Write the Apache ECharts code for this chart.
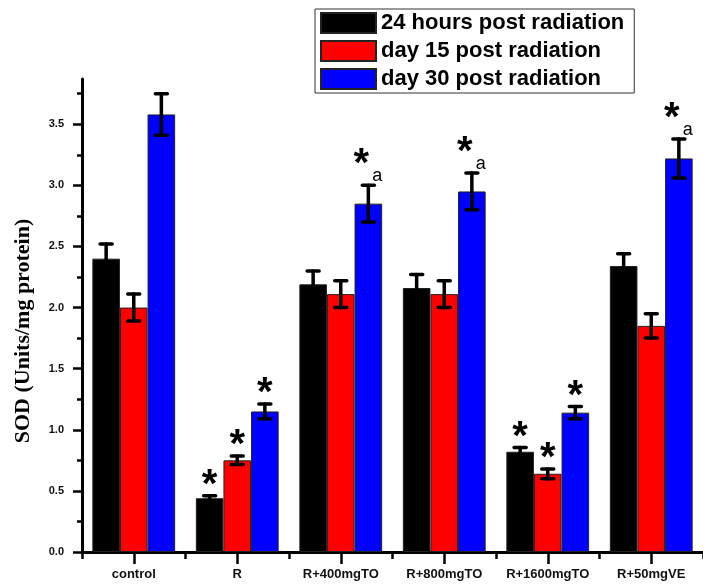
<!DOCTYPE html>
<html>
<head>
<meta charset="utf-8">
<script src="https://cdn.jsdelivr.net/npm/echarts@6/dist/echarts.min.js"></script>
<style>
  html, body { margin: 0; padding: 0; background: #fff; }
  #main { width: 703px; height: 588px; }
</style>
</head>
<body>
<div id="main"></div>
<script>
// groups on the x axis
var categories = ['control', 'R', 'R+400mgTO', 'R+800mgTO', 'R+1600mgTO', 'R+50mgVE'];
var seriesNames = ['24 hours post radiation', 'day 15 post radiation', 'day 30 post radiation'];

// SOD values (Units/mg protein)
var h24 = [2.40, 0.44, 2.19, 2.16, 0.82, 2.34];
var d15 = [2.00, 0.75, 2.11, 2.11, 0.64, 1.85];
var d30 = [3.58, 1.15, 2.85, 2.95, 1.14, 3.22];

// error bars (+/-)
var err24 = [0.12, 0.02, 0.11, 0.11, 0.035, 0.10];
var err15 = [0.11, 0.035, 0.11, 0.11, 0.04, 0.10];
var err30 = [0.17, 0.06, 0.15, 0.15, 0.05, 0.16];

// significance marks: * and a
var star24 = [0, 1, 0, 0, 1, 0];
var star15 = [0, 1, 0, 0, 1, 0];
var star30 = [0, 1, 1, 1, 1, 1];
var mark_a30 = [0, 0, 1, 1, 0, 1];

// y axis ticks
var yMajorTicks = [0, 0.5, 1.0, 1.5, 2.0, 2.5, 3.0, 3.5];
var yMinorTicks = [0.25, 0.75, 1.25, 1.75, 2.25, 2.75, 3.25, 3.75];
var yMax = 3.87;

var colors = ['#000000', '#ff0000', '#0000ff'];

var chart = echarts.init(document.getElementById('main'));

var buildErr = function (k, vals, errs, stars, marksA) {
    var data = [];
    for (var i = 0; i < vals.length; i++) {
        data.push([i, vals[i], errs[i], stars[i], marksA ? marksA[i] : 0]);
    }
    return {
        type: 'custom',
        xAxisIndex: 0,
        yAxisIndex: 0,
        z: 5,
        silent: true,
        data: data,
        renderItem: function (params, api) {
            var idx = api.value(0), v = api.value(1), e = api.value(2);
            var catW = api.size([1, 0])[0];
            var bw = catW * 0.8 / 3;
            var cx = api.coord([idx, 0])[0] + (k - 1) * bw;
            var top = api.coord([idx, v + e])[1];
            var bot = api.coord([idx, v - e])[1];
            var hw = 6;
            var lineStyle = { stroke: '#000', lineWidth: 3.5, lineCap: 'round' };
            var children = [
                { type: 'line', shape: { x1: cx, y1: top, x2: cx, y2: bot }, style: lineStyle },
                { type: 'line', shape: { x1: cx - hw, y1: top, x2: cx + hw, y2: top }, style: lineStyle },
                { type: 'line', shape: { x1: cx - hw, y1: bot, x2: cx + hw, y2: bot }, style: lineStyle }
            ];
            var hasA = api.value(4) === 1;
            // the asterisk glyph sits high in its box, so the anchor is lower than the glyph
            if (api.value(3) === 1) {
                children.push({
                    type: 'text',
                    x: cx + (hasA ? -7 : 0),
                    y: top - (hasA ? 20 : 10),
                    style: {
                        text: '*',
                        font: 'bold 40px "Liberation Sans", Arial, sans-serif',
                        fill: '#000',
                        align: 'center',
                        verticalAlign: 'middle'
                    }
                });
            }
            if (hasA) {
                children.push({
                    type: 'text',
                    x: cx + 9,
                    y: top - 9,
                    style: {
                        text: 'a',
                        font: '18px "Liberation Sans", Arial, sans-serif',
                        fill: '#000',
                        align: 'center',
                        verticalAlign: 'middle'
                    }
                });
            }
            return { type: 'group', children: children };
        }
    };
};

var barSeries = function (k, vals) {
    return {
        name: seriesNames[k],
        type: 'bar',
        xAxisIndex: 0,
        yAxisIndex: 0,
        data: vals,
        barGap: '0%',
        barCategoryGap: '20%',
        itemStyle: { color: colors[k], borderColor: '#222', borderWidth: 1 }
    };
};

var option = {
    animation: false,
    backgroundColor: '#fff',
    grid: { left: 82, top: 79, bottom: 36, width: 627, containLabel: false },
    legend: {
        data: seriesNames,
        orient: 'vertical',
        left: 315,
        top: 9,
        padding: [3, 10, 3, 5],
        itemWidth: 55,
        itemHeight: 20,
        itemGap: 6,
        icon: 'rect',
        borderColor: '#333',
        borderWidth: 1,
        textStyle: { fontFamily: '"Liberation Sans", Arial, sans-serif', fontWeight: 'bold', fontSize: 22, color: '#000' }
    },
    xAxis: [{
        type: 'category',
        position: 'bottom',
        data: categories,
        axisLine: { lineStyle: { color: '#000', width: 3 } },
        axisTick: { show: true, alignWithLabel: false, length: 7, lineStyle: { color: '#000', width: 2.5 } },
        axisLabel: {
            margin: 16,
            interval: 0,
            fontFamily: '"Liberation Sans", Arial, sans-serif',
            fontWeight: 'bold',
            fontSize: 13,
            color: '#111'
        },
        splitLine: { show: false }
    }, {
        type: 'category',
        position: 'bottom',
        data: categories,
        axisLine: { show: false },
        axisTick: { show: true, alignWithLabel: true, length: 12, lineStyle: { color: '#000', width: 2.5 } },
        axisLabel: { show: false },
        splitLine: { show: false }
    }],
    yAxis: [{
        type: 'value',
        position: 'left',
        min: 0,
        max: yMax,
        axisLine: { show: true, lineStyle: { color: '#000', width: 3 } },
        axisTick: { show: true, customValues: yMajorTicks, length: 9, lineStyle: { color: '#000', width: 2.5 } },
        axisLabel: {
            customValues: yMajorTicks,
            margin: 18,
            fontFamily: '"Liberation Sans", Arial, sans-serif',
            fontWeight: 'bold',
            fontSize: 11,
            color: '#111',
            formatter: function (v) { return v.toFixed(1); }
        },
        splitLine: { show: false }
    }, {
        type: 'value',
        position: 'left',
        min: 0,
        max: yMax,
        axisLine: { show: false },
        axisTick: { show: true, customValues: yMinorTicks, length: 5, lineStyle: { color: '#000', width: 2.5 } },
        axisLabel: { show: false },
        splitLine: { show: false }
    }],
    graphic: [{
        type: 'text',
        x: 23,
        y: 331,
        rotation: Math.PI / 2,
        style: {
            text: 'SOD (Units/mg protein)',
            font: 'bold 22px "Liberation Serif", "Times New Roman", serif',
            fill: '#000',
            align: 'center',
            verticalAlign: 'middle'
        }
    }],
    series: [
        barSeries(0, h24),
        barSeries(1, d15),
        barSeries(2, d30),
        buildErr(0, h24, err24, star24, null),
        buildErr(1, d15, err15, star15, null),
        buildErr(2, d30, err30, star30, mark_a30)
    ]
};

chart.setOption(option);
</script>
</body>
</html>
